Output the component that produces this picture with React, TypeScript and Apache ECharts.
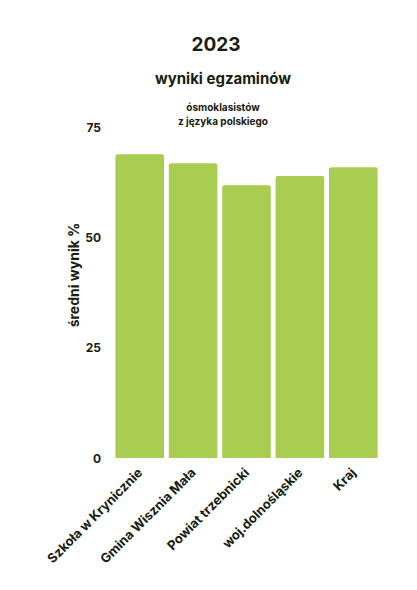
import React, { useEffect, useRef } from "react";
import * as echarts from "echarts";

const categories = [
  "Szkoła w Krynicznie",
  "Gmina Wisznia Mała",
  "Powiat trzebnicki",
  "woj.dolnośląskie",
  "Kraj",
];
const values = [68.8, 66.8, 61.8, 63.9, 65.9];
const yTicks = [0, 25, 50, 75];

const FONT = "Inter, 'Open Sans', sans-serif";
const DARK = "#16200f";

export default function App() {
  const ref = useRef<HTMLDivElement>(null);
  useEffect(() => {
    const chart = echarts.init(ref.current!, null, { renderer: "svg" });
    chart.setOption({
      animation: false,
      backgroundColor: "#ffffff",
      title: [
        {
          text: "2023",
          left: 211,
          top: 30,
          textAlign: "center",
          textStyle: { fontFamily: FONT, fontSize: 19, fontWeight: "bold", color: DARK },
        },
        {
          text: "wyniki egzaminów",
          left: 218,
          top: 66,
          textAlign: "center",
          textStyle: { fontFamily: FONT, fontSize: 15, fontWeight: "bold", color: DARK },
        },
        {
          text: "ósmoklasistów\nz języka polskiego",
          left: 218,
          top: 95,
          textAlign: "center",
          textStyle: {
            fontFamily: FONT,
            fontSize: 10,
            fontWeight: "bold",
            color: DARK,
            lineHeight: 14,
          },
        },
      ],
      graphic: [
        {
          type: "text",
          x: 73,
          y: 275,
          rotation: Math.PI / 2,
          style: {
            text: "średni wynik %",
            fontFamily: FONT,
            fontSize: 14,
            fontWeight: "bold",
            fill: DARK,
            align: "center",
            verticalAlign: "middle",
          },
        },
      ],
      grid: { left: 113, right: 37, top: 127, bottom: 132, containLabel: false },
      xAxis: {
        type: "category",
        data: categories,
        axisLine: { show: false },
        axisTick: { show: false },
        axisLabel: {
          rotate: 45,
          interval: 0,
          margin: 12,
          fontFamily: FONT,
          fontSize: 13,
          fontWeight: "bold",
          color: DARK,
        },
      },
      yAxis: {
        type: "value",
        min: yTicks[0],
        max: yTicks[yTicks.length - 1],
        interval: 25,
        splitLine: { show: false },
        axisLine: { show: false },
        axisTick: { show: false },
        axisLabel: {
          margin: 12,
          fontFamily: FONT,
          fontSize: 12,
          fontWeight: "bold",
          color: DARK,
        },
      },
      series: [
        {
          type: "bar",
          data: values,
          barCategoryGap: "9%",
          itemStyle: { color: "#a9cd51", borderRadius: [2, 2, 0, 0] },
        },
      ],
    });
    return () => chart.dispose();
  }, []);
  return (
    <div
      ref={ref}
      style={{ position: "absolute", left: 0, top: 0, width: 417, height: 590 }}
    />
  );
}
